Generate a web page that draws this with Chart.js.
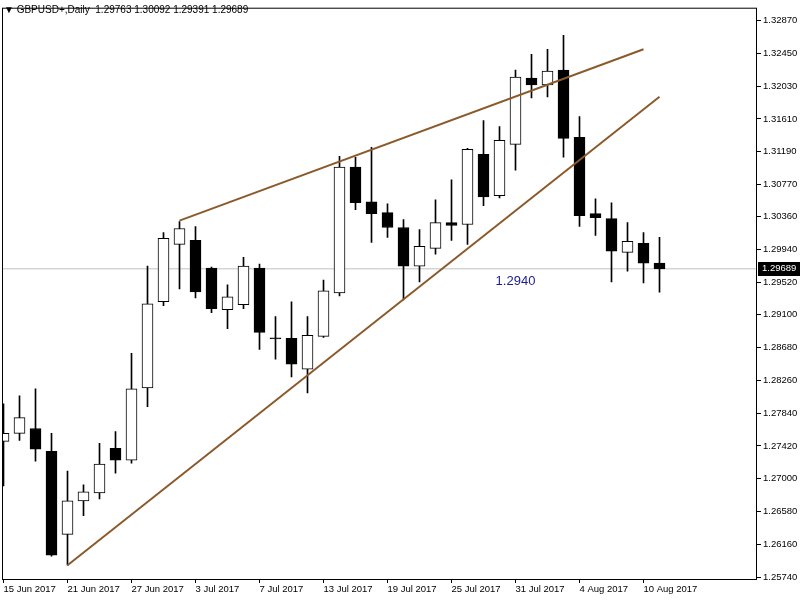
<!DOCTYPE html>
<html>
<head>
<meta charset="utf-8">
<script src="https://cdn.jsdelivr.net/npm/chart.js@4.4.0/dist/chart.umd.min.js"></script>
<style>
  body { margin: 0; background: #fff; }
</style>
</head>
<body>
<canvas id="myChart" width="800" height="600"></canvas>
<script>
// GBPUSD+ daily, 15 Jun - 11 Aug 2017

const dates = [
  "15 Jun 2017", "16 Jun 2017", "19 Jun 2017", "20 Jun 2017", "21 Jun 2017", "22 Jun 2017", "23 Jun 2017",
  "26 Jun 2017", "27 Jun 2017", "28 Jun 2017", "29 Jun 2017", "30 Jun 2017",
  "3 Jul 2017", "4 Jul 2017", "5 Jul 2017", "6 Jul 2017", "7 Jul 2017",
  "10 Jul 2017", "11 Jul 2017", "12 Jul 2017", "13 Jul 2017", "14 Jul 2017",
  "17 Jul 2017", "18 Jul 2017", "19 Jul 2017", "20 Jul 2017", "21 Jul 2017",
  "24 Jul 2017", "25 Jul 2017", "26 Jul 2017", "27 Jul 2017", "28 Jul 2017",
  "31 Jul 2017", "1 Aug 2017", "2 Aug 2017", "3 Aug 2017", "4 Aug 2017",
  "7 Aug 2017", "8 Aug 2017", "9 Aug 2017", "10 Aug 2017", "11 Aug 2017"
];

const open = [1.27478, 1.27580, 1.27643, 1.27351, 1.26286, 1.26717, 1.26818, 1.27389, 1.27237, 1.28163,
  1.29267, 1.30003, 1.30054, 1.29698, 1.29166, 1.29229, 1.29698, 1.28804, 1.28798, 1.28404,
  1.28823, 1.29381, 1.30992, 1.30548, 1.30409, 1.30219, 1.29724, 1.29952, 1.30282, 1.30257,
  1.31157, 1.30625, 1.31284, 1.32134, 1.32045, 1.32236, 1.31373, 1.30396, 1.30333, 1.29901,
  1.30016, 1.29763];
const high = [1.27960, 1.28062, 1.28151, 1.27580, 1.27098, 1.26920, 1.27453, 1.27605, 1.28607, 1.29724,
  1.30155, 1.30295, 1.30231, 1.29711, 1.29483, 1.29838, 1.29749, 1.29077, 1.29267, 1.29077,
  1.29546, 1.31132, 1.31119, 1.31246, 1.30523, 1.30320, 1.30193, 1.30574, 1.30828, 1.31234,
  1.31589, 1.31513, 1.32236, 1.32439, 1.32502, 1.32680, 1.31640, 1.30586, 1.30536, 1.30282,
  1.30155, 1.30092];
const low = [1.26907, 1.27491, 1.27224, 1.26006, 1.25892, 1.26527, 1.26742, 1.27072, 1.27199, 1.27922,
  1.29216, 1.29432, 1.29318, 1.29127, 1.28924, 1.29178, 1.28658, 1.28531, 1.28303, 1.28100,
  1.28810, 1.29343, 1.30447, 1.30028, 1.30092, 1.29292, 1.29521, 1.29876, 1.30054, 1.30003,
  1.30498, 1.30599, 1.30954, 1.31880, 1.31893, 1.31119, 1.30231, 1.30117, 1.29521, 1.29660,
  1.29508, 1.29391];
const close = [1.27580, 1.27783, 1.27377, 1.26019, 1.26717, 1.26831, 1.27186, 1.27237, 1.28151, 1.29242,
  1.30079, 1.30206, 1.29394, 1.29178, 1.29330, 1.29724, 1.28874, 1.28791, 1.28468, 1.28836,
  1.29407, 1.30992, 1.30536, 1.30396, 1.30219, 1.29724, 1.29978, 1.30282, 1.30244, 1.31221,
  1.30612, 1.31335, 1.32147, 1.32045, 1.32223, 1.31360, 1.30371, 1.30345, 1.29914, 1.30041,
  1.29762, 1.29689];

// trend lines (bar index, price)
const upperLineX = [11, 40];
const upperLineY = [1.30307, 1.32502];
const lowerLineX = [4, 41];
const lowerLineY = [1.25892, 1.31893];

const xTicks = [0, 4, 8, 12, 16, 20, 24, 28, 32, 36, 40];
const yTicks = [1.32870, 1.32450, 1.32030, 1.31610, 1.31190, 1.30770, 1.30360, 1.29940, 1.29520,
  1.29100, 1.28680, 1.28260, 1.27840, 1.27420, 1.27000, 1.26580, 1.26160, 1.25740];

const lastPrice = close[close.length - 1];
const title = "▼ GBPUSD+,Daily  " + [open, high, low, close].map(a => a[a.length - 1].toFixed(5)).join(" ");
const noteText = "1.2940";

const FONT = "Liberation Sans";
const brown = "#8b5a2b";

const wicks = dates.map((d, i) => ({ x: i, y: [low[i], high[i]] }));
const bodies = dates.map((d, i) => ({ x: i, y: [open[i], close[i]] }));
const bodyColors = dates.map((d, i) => close[i] >= open[i] ? "#fff" : "#000");

const overlay = {
  id: "overlay",
  afterDraw(chart) {
    const { ctx, chartArea: a, scales } = chart;
    ctx.save();
    ctx.strokeStyle = "#000";
    ctx.lineWidth = 1;
    ctx.strokeRect(a.left + 0.5, a.top + 0.5, a.right - a.left - 1, a.bottom - a.top);

    // price tag on the right axis
    const py = scales.y.getPixelForValue(lastPrice);
    ctx.fillStyle = "#000";
    ctx.fillRect(a.right + 1, Math.round(py) - 7, 800 - a.right - 1, 14);
    ctx.fillStyle = "#fff";
    ctx.font = "9.5px '" + FONT + "'";
    ctx.textBaseline = "middle";
    ctx.fillText(lastPrice.toFixed(5), a.right + 5, py);

    // title
    ctx.fillStyle = "#000";
    ctx.font = "10px '" + FONT + "'";
    ctx.fillText(title, 4, 10);

    // text note
    ctx.fillStyle = "#1c1c96";
    ctx.font = "13px '" + FONT + "'";
    ctx.textAlign = "center";
    ctx.fillText(noteText, scales.x.getPixelForValue(32), scales.y.getPixelForValue(1.2953));
    ctx.restore();
  }
};

new Chart(document.getElementById("myChart"), {
  type: "bar",
  data: {
    datasets: [
      {
        type: "line",
        data: upperLineX.map((x, i) => ({ x: x, y: upperLineY[i] })),
        borderColor: brown,
        borderWidth: 2,
        pointRadius: 0,
        order: 0
      },
      {
        type: "line",
        data: lowerLineX.map((x, i) => ({ x: x, y: lowerLineY[i] })),
        borderColor: brown,
        borderWidth: 2,
        pointRadius: 0,
        order: 0
      },
      {
        data: bodies,
        backgroundColor: bodyColors,
        borderColor: "#000",
        borderWidth: 1,
        borderSkipped: false,
        barThickness: 11,
        grouped: false,
        order: 1
      },
      {
        data: wicks,
        backgroundColor: "#000",
        borderWidth: 0,
        barThickness: 1,
        grouped: false,
        order: 2
      },
      {
        type: "line",
        data: [{ x: -1, y: lastPrice }, { x: 50, y: lastPrice }],
        borderColor: "#c0c0c0",
        borderWidth: 1,
        pointRadius: 0,
        order: 3
      }
    ]
  },
  options: {
    responsive: false,
    animation: false,
    events: [],
    layout: { padding: { left: 2, top: 2, right: 0, bottom: 0 } },
    plugins: { legend: { display: false }, tooltip: { enabled: false } },
    scales: {
      x: {
        type: "linear",
        min: -0.09375,
        max: 47.09375,
        offset: false,
        afterBuildTicks: s => { s.ticks = xTicks.map(v => ({ value: v })); },
        afterFit: s => { s.height = 21; },
        grid: { display: true, drawOnChartArea: false, drawTicks: true, tickLength: 4, color: "#000", offset: false },
        border: { display: false },
        ticks: {
          callback: v => dates[v],
          align: "start",
          maxRotation: 0,
          autoSkip: false,
          padding: 1,
          color: "#000",
          font: { family: FONT, size: 9.5 }
        }
      },
      y: {
        position: "right",
        min: 1.25715,
        max: 1.33035,
        afterBuildTicks: s => { s.ticks = yTicks.map(v => ({ value: v })); },
        afterFit: s => { s.width = 43; },
        grid: { display: true, drawOnChartArea: false, drawTicks: true, tickLength: 4, color: "#000" },
        border: { display: false },
        ticks: {
          callback: v => v.toFixed(5),
          autoSkip: false,
          padding: 2,
          color: "#000",
          font: { family: FONT, size: 9.5 }
        }
      }
    }
  },
  plugins: [overlay]
});
</script>
</body>
</html>
